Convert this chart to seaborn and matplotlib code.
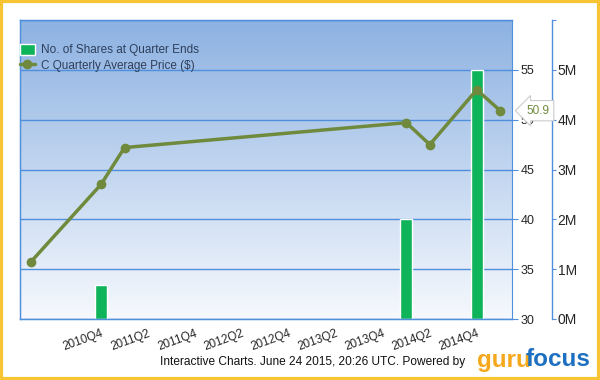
import numpy as np
import pandas as pd
import seaborn as sns
import matplotlib.pyplot as plt
from matplotlib.patches import Rectangle

sns.set_style("white")
plt.rcParams["font.family"] = ["Liberation Sans", "DejaVu Sans"]

# price line (quarterly average price)
price_quarters = ["2010Q1", "2010Q4", "2011Q1", "2014Q1", "2014Q2", "2014Q4", "2015Q1"]
prices = [35.7, 43.5, 47.2, 49.7, 47.5, 53.0, 50.9]

# shares held at quarter ends
share_quarters = ["2010Q4", "2014Q1", "2014Q4"]
shares = [680000, 2000000, 5000000]

tick_quarters = ["2010Q2", "2010Q4", "2011Q2", "2011Q4", "2012Q2", "2012Q4",
                 "2013Q2", "2013Q4", "2014Q2", "2014Q4"]
tick_labels = ["", "2010Q4", "2011Q2", "2011Q4", "2012Q2", "2012Q4",
               "2013Q2", "2013Q4", "2014Q2", "2014Q4"]
price_ticks = [30, 35, 40, 45, 50, 55]
share_ticks = [0, 1e6, 2e6, 3e6, 4e6, 5e6, 6e6]
share_labels = ["0M", "1M", "2M", "3M", "4M", "5M", ""]


def q_index(q):
    # quarters counted from 2010Q1
    return (int(q[:4]) - 2010) * 4 + int(q[-1]) - 1


price_df = pd.DataFrame({"q": [q_index(q) for q in price_quarters], "price": prices})
share_df = pd.DataFrame({"q": [q_index(q) for q in share_quarters], "shares": shares})

BLUE = "#4f8fdc"
GREEN_BAR = "#0fb45a"
OLIVE = "#6f8a3c"

W, H = 600, 380
fig = plt.figure(figsize=(6, 3.8), dpi=100)
pos = [20 / W, (H - 319) / H, 492 / W, 299 / H]

# gradient background
ax_bg = fig.add_axes(pos, zorder=-1)
grad = np.linspace(0, 1, 256).reshape(-1, 1)
top = np.array([0x8d, 0xb2, 0xe2]) / 255
bot = np.array([0xf6, 0xf9, 0xfd]) / 255
img = top * (1 - grad[..., None]) + bot * grad[..., None]
img = img.reshape(256, 1, 3)
ax_bg.imshow(img, aspect="auto", extent=[0, 1, 0, 1])
ax_bg.axis("off")

ax = fig.add_axes(pos)
ax.patch.set_alpha(0)
min_gap = np.diff(sorted(share_df["q"])).min()
sns.barplot(data=share_df, x="q", y="shares", native_scale=True, width=0.51 / min_gap,
            color=GREEN_BAR, saturation=1, ax=ax, label="No. of Shares at Quarter Ends")

ax2 = ax.twinx()
sns.lineplot(data=price_df, x="q", y="price", color=OLIVE, lw=2.5, marker="o",
             markersize=7, markeredgewidth=0, ax=ax2, label="C Quarterly Average Price ($)")

# shares axis (outer right), 40 px from the plot edge
ax.set_xlim(-0.45, 20.5)
ax.set_ylim(0, 6e6)
ax.set_xticks([q_index(q) for q in tick_quarters])
ax.set_xticklabels(tick_labels, rotation=20, ha="right", va="top", rotation_mode="anchor",
                   fontsize=8.5)
ax.set_yticks(share_ticks)
ax.set_yticklabels(share_labels, fontsize=9)
ax.yaxis.tick_right()
ax.yaxis.set_label_position("right")
ax.spines["right"].set_position(("outward", 40 * 72 / 100))
ax.tick_params(axis="x", direction="out", length=4, color=BLUE, pad=2)
ax.tick_params(axis="y", direction="out", length=3, color=BLUE, pad=1)
ax.yaxis.grid(True, color=BLUE, lw=1)
ax.set_axisbelow(True)
for s in ax.spines.values():
    s.set_color(BLUE)
    s.set_linewidth(1)
ax.set_xlabel("")
ax.set_ylabel("")

# price axis (inner right)
ax2.set_ylim(30, 60)
ax2.set_yticks(price_ticks)
ax2.set_yticklabels([str(t) for t in price_ticks], fontsize=9)
ax2.tick_params(axis="y", direction="out", length=4, color=BLUE, pad=2)
for s in ax2.spines.values():
    s.set_color(BLUE)
ax2.set_xlabel("")
ax2.set_ylabel("")

for a in (ax, ax2):
    if a.get_legend() is not None:
        a.get_legend().remove()

h1, l1 = ax.get_legend_handles_labels()
h2, l2 = ax2.get_legend_handles_labels()
leg = ax2.legend(h1 + h2, l1 + l2, loc="upper left", bbox_to_anchor=(-0.01, 0.935),
                 frameon=False, fontsize=8.5, handlelength=1.3, handleheight=1.0,
                 handletextpad=0.5, labelspacing=0.25, borderaxespad=0)
for t in leg.get_texts():
    t.set_color("#2e3f5c")

# last value tag
last_q = price_df["q"].iloc[-1]
last_p = price_df["price"].iloc[-1]
ax2.annotate(f"{last_p:.1f}", xy=(last_q, last_p), xytext=(19, 0), textcoords="offset points",
             ha="left", va="center", fontsize=8.5, color=OLIVE, annotation_clip=False,
             bbox=dict(boxstyle="larrow,pad=0.35", fc="white", ec="#cccccc", lw=0.8))

fig.text(160 / W, 1 - 362 / H, "Interactive Charts. June 24 2015, 20:26 UTC. Powered by",
         fontsize=8.6, ha="left", va="center", color="#111111")
fig.text(477 / W, 1 - 360 / H, "guru", fontsize=17.5, fontweight="bold", color="#f5a81c",
         ha="left", va="center")
fig.text(526 / W, 1 - 360 / H, "focus", fontsize=17.5, fontweight="bold", color="#1d6fc1",
         ha="left", va="center")

fig.patches.append(Rectangle((0.002, 0.003), 0.996, 0.994, transform=fig.transFigure,
                             fill=False, ec="#f7c533", lw=3))

fig.savefig("out.png", dpi=100)
